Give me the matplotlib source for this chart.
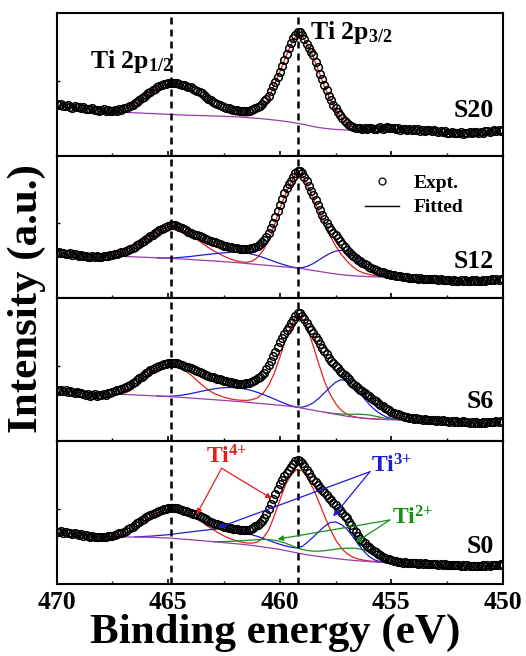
import numpy as np
import matplotlib
matplotlib.use("Agg")
import matplotlib.pyplot as plt
from matplotlib.lines import Line2D
from matplotlib.ticker import MultipleLocator

plt.rcParams["font.family"] = "Liberation Serif"
plt.rcParams["font.weight"] = "bold"
plt.rcParams["mathtext.fontset"] = "custom"
plt.rcParams["mathtext.rm"] = "Liberation Serif:bold"
plt.rcParams["mathtext.bf"] = "Liberation Serif:bold"
plt.rcParams["mathtext.it"] = "Liberation Serif:bold"
plt.rcParams["mathtext.default"] = "bf"

nan = np.nan

# binding energy axes (eV): measured points every 0.1 eV, fit curves every 0.25 eV
energy = np.linspace(470, 450, 201)
energy_fit = np.linspace(468, 454.5, 55)

samples = ["S20", "S12", "S6", "S0"]
peak_lines = [464.9, 459.2]
xticks = [470, 465, 460, 455, 450]

# ---- S20 ----
expt_s20 = [
    51.5, 50.5, 51.8, 50.2, 49.6, 50.4, 49.0, 48.2, 49.5, 48.6,
    48.4, 47.5, 48.8, 47.0, 46.8, 46.4, 47.6, 45.9, 46.2, 45.1,
    45.8, 46.6, 44.8, 45.5, 44.6, 45.0, 45.8, 44.9, 46.3, 46.0,
    47.4, 48.0, 48.9, 50.1, 51.2, 52.4, 54.0, 55.6, 57.4, 59.0,
    60.8, 62.6, 64.2, 65.7, 67.2, 68.4, 69.6, 70.5, 71.3, 71.9,
    72.4, 72.8, 73.1, 73.0, 72.6, 71.7, 71.1, 70.4, 69.6, 68.9,
    68.4, 67.2, 66.0, 64.8, 63.6, 62.4, 60.8, 59.0, 57.2, 55.6,
    54.0, 52.8, 51.6, 50.6, 49.8, 49.0, 48.2, 47.4, 46.8, 46.2,
    45.8, 45.3, 45.0, 44.6, 44.9, 44.8, 45.2, 45.8, 46.5, 47.3,
    48.4, 50.0, 52.0, 54.5, 57.0, 60.0, 65.0, 69.5, 74.0, 79.0,
    84.0, 90.0, 96.0, 102.0, 108.0, 112.4, 118.0, 121.0, 124.0, 123.5,
    120.7, 116.5, 112.0, 108.0, 104.0, 100.7, 94.0, 88.5, 82.0, 76.5,
    70.7, 65.5, 60.0, 55.5, 51.0, 47.5, 44.0, 40.5, 37.5, 35.0,
    32.8, 31.0, 30.0, 28.8, 28.2, 27.6, 27.8, 26.9, 27.4, 27.0,
    27.4, 28.1, 27.2, 26.6, 27.9, 28.4, 27.1, 27.8, 28.6, 27.5,
    28.0, 27.3, 26.8, 27.6, 26.2, 27.0, 26.5, 25.8, 26.9, 26.1,
    26.4, 25.5, 26.8, 25.2, 26.0, 24.8, 25.9, 25.3, 24.6, 25.6,
    25.0, 24.2, 24.9, 23.6, 24.5, 23.2, 22.8, 23.7, 22.5, 23.0,
    22.4, 23.3, 22.1, 23.0, 22.6, 23.8, 22.9, 24.1, 23.5, 23.2,
    24.0, 23.1, 24.4, 25.0, 23.8, 24.7, 25.5, 24.6, 25.9, 25.1,
    25.7,
]
bg_s20 = [
    44.0, 43.9, 43.7, 43.6, 43.4,
    43.2, 42.9, 42.7, 42.4, 42.2,
    41.9, 41.7, 41.4, 41.2, 40.9,
    40.7, 40.4, 40.3, 40.1, 40.0,
    39.8, 39.6, 39.4, 39.2, 39.0,
    38.6, 38.2, 37.8, 37.4, 36.9,
    36.3, 35.7, 35.1, 34.3, 33.5,
    32.6, 31.6, 30.4, 29.2, 28.2,
    27.4, 26.8, 26.3, 26.0, 25.7,
    25.4, 25.2, 25.0, 24.9, nan,
    nan, nan, nan, nan, nan,
]
ti4_s20 = [
    nan, nan, 43.7, 44.5, 46.0,
    48.3, 51.5, 55.5, 59.8, 64.0,
    67.5, 70.0, 71.5, 72.0, 71.2,
    69.3, 66.5, 62.8, 58.8, 54.6,
    50.6, 47.2, 44.5, 42.4, 41.0,
    40.1, 39.8, 40.6, 43.5, 48.5,
    57.0, 70.5, 84.0, 98.0, 111.0,
    121.5, 120.0, 110.0, 99.0, 84.0,
    69.0, 56.5, 46.5, 38.5, 32.5,
    28.5, 26.5, 25.5, 25.0, nan,
    nan, nan, nan, nan, nan,
]

# ---- S12 ----
expt_s12 = [
    45.8, 46.4, 45.2, 45.9, 44.6, 44.5, 45.1, 43.8, 44.2, 43.0,
    42.5, 43.4, 42.2, 42.8, 41.6, 41.8, 42.5, 41.3, 42.0, 41.5,
    41.8, 42.2, 42.6, 42.4, 43.0, 43.5, 44.0, 44.8, 45.3, 46.0,
    46.8, 47.6, 48.5, 49.5, 50.6, 51.8, 53.2, 54.6, 56.0, 57.6,
    59.2, 60.8, 62.4, 63.9, 65.4, 66.8, 68.1, 69.3, 70.5, 71.6,
    72.5, 73.1, 73.5, 73.2, 72.3, 71.2, 70.2, 69.1, 68.0, 66.9,
    65.8, 64.9, 63.9, 63.0, 62.1, 61.2, 60.3, 59.4, 58.5, 57.6,
    56.8, 56.0, 55.2, 54.4, 53.6, 52.8, 52.2, 51.7, 51.2, 50.8,
    50.5, 50.1, 49.9, 49.6, 49.4, 49.5, 49.7, 50.2, 50.9, 51.6,
    52.5, 54.0, 56.0, 58.5, 61.5, 65.2, 70.0, 75.5, 81.0, 87.0,
    93.0, 99.0, 105.0, 110.0, 114.0, 117.5, 121.5, 125.5, 127.8, 127.0,
    125.2, 121.5, 117.0, 112.5, 107.5, 103.0, 98.0, 93.0, 88.0, 83.5,
    79.0, 75.0, 71.5, 68.5, 65.5, 63.0, 60.2, 57.4, 54.5, 51.5,
    48.8, 46.5, 44.3, 42.3, 40.4, 38.6, 37.1, 35.7, 34.3, 33.0,
    31.8, 30.7, 29.7, 28.8, 27.8, 26.9, 26.1, 25.3, 24.6, 24.0,
    23.5, 23.0, 22.6, 22.2, 22.3, 21.8, 21.2, 21.6, 20.8, 20.5,
    20.2, 20.8, 19.9, 20.4, 19.5, 19.9, 19.3, 19.8, 19.0, 19.6,
    19.2, 18.6, 19.3, 18.4, 18.9, 18.1, 18.7, 17.9, 18.5, 17.6,
    17.8, 18.4, 17.5, 18.2, 17.4, 17.9, 18.3, 17.6, 18.1, 17.3,
    17.8, 18.5, 17.9, 18.7, 18.2, 19.0, 18.4, 19.3, 18.8, 19.5,
    19.2,
]
bg_s12 = [
    42.8, 42.6, 42.5, 42.2, 42.0,
    41.8, 41.6, 41.4, 41.2, 40.9,
    40.6, 40.4, 40.2, 39.9, 39.6,
    39.3, 39.0, 38.6, 38.2, 37.9,
    37.6, 37.2, 36.8, 36.4, 36.0,
    35.5, 35.0, 34.5, 34.0, 33.5,
    33.0, 32.5, 32.0, 31.5, 31.0,
    30.4, 29.8, 28.9, 28.0, 27.1,
    26.2, 25.3, 24.5, 23.8, 23.2,
    22.8, 22.4, 22.1, 21.8, 21.6,
    21.5, 21.3, 21.2, nan, nan,
]
ti4_s12 = [
    nan, nan, 42.5, 43.6, 45.2,
    47.5, 50.5, 54.2, 58.2, 62.5,
    66.2, 69.5, 71.7, 72.5, 70.5,
    67.5, 64.0, 59.8, 55.5, 51.6,
    48.2, 45.0, 42.2, 39.8, 37.9,
    36.6, 36.2, 37.2, 41.0, 48.0,
    58.0, 73.0, 90.0, 104.0, 116.0,
    126.5, 124.0, 112.0, 100.0, 87.0,
    74.0, 62.5, 52.5, 44.0, 37.5,
    32.0, 28.0, 25.5, 24.0, 23.0,
    22.2, 21.6, 21.2, nan, nan,
]
ti3_s12 = [
    nan, nan, nan, nan, nan,
    nan, nan, nan, nan, nan,
    40.6, 40.5, 40.5, 40.7, 41.0,
    41.5, 42.0, 42.7, 43.4, 44.0,
    44.6, 45.2, 45.7, 46.2, 46.5,
    46.3, 45.6, 44.4, 42.8, 41.0,
    39.0, 37.0, 35.0, 33.3, 31.8,
    30.8, 30.8, 32.3, 35.0, 38.5,
    42.0, 45.2, 47.4, 48.2, 46.8,
    43.5, 38.8, 34.0, 29.8, 26.5,
    24.2, 22.6, 21.6, 21.2, nan,
]

# ---- S6 ----
expt_s6 = [
    51.2, 50.5, 51.6, 50.2, 50.9, 49.6, 50.3, 49.0, 48.5, 49.2,
    47.9, 48.6, 47.2, 46.5, 47.0, 45.2, 45.9, 46.8, 45.5, 46.4,
    46.2, 47.0, 46.6, 47.8, 48.4, 49.6, 50.0, 50.9, 51.5, 52.2,
    52.9, 53.8, 55.0, 56.4, 58.0, 59.6, 61.3, 63.0, 64.7, 66.3,
    67.9, 69.4, 70.8, 72.2, 73.5, 74.6, 75.6, 76.4, 77.0, 77.5,
    77.9, 78.3, 78.6, 78.4, 77.9, 77.2, 76.4, 75.5, 74.6, 73.8,
    72.9, 71.9, 70.9, 69.9, 68.9, 67.9, 67.1, 66.3, 65.5, 64.7,
    63.9, 63.2, 62.5, 61.8, 61.2, 60.6, 60.0, 59.4, 58.8, 58.3,
    57.9, 57.6, 57.4, 57.3, 57.5, 57.9, 58.4, 59.2, 60.3, 61.5,
    62.9, 64.5, 66.3, 68.5, 71.8, 76.2, 80.5, 85.0, 89.5, 94.0,
    99.0, 103.0, 107.0, 110.8, 114.5, 117.9, 121.5, 125.0, 128.5, 127.8,
    125.2, 121.8, 118.0, 114.5, 111.2, 108.0, 104.5, 100.8, 97.2, 93.6,
    90.0, 86.8, 83.6, 80.6, 77.8, 75.0, 72.8, 70.6, 68.4, 66.2,
    64.0, 61.8, 59.6, 57.4, 55.2, 53.0, 51.4, 49.8, 48.2, 46.6,
    45.0, 43.3, 41.6, 39.9, 38.2, 36.5, 35.1, 33.7, 32.3, 30.9,
    29.5, 28.6, 27.7, 26.8, 25.9, 25.0, 24.5, 24.0, 23.5, 23.0,
    22.5, 22.9, 21.8, 22.3, 21.4, 21.9, 21.0, 21.5, 20.8, 21.2,
    20.6, 21.1, 20.3, 20.8, 19.9, 20.5, 19.7, 20.2, 19.5, 20.0,
    19.6, 19.1, 19.8, 18.9, 19.4, 18.7, 19.2, 18.5, 19.0, 18.4,
    18.6, 19.2, 18.5, 19.3, 18.8, 19.6, 19.0, 19.8, 19.2, 20.0,
    19.6,
]
bg_s6 = [
    47.5, 47.3, 47.2, 47.0, 46.8,
    46.6, 46.3, 46.0, 45.8, 45.5,
    45.2, 44.9, 44.6, 44.3, 44.0,
    43.6, 43.2, 42.8, 42.4, 42.0,
    41.6, 41.2, 40.8, 40.4, 40.0,
    39.5, 39.0, 38.5, 38.0, 37.5,
    37.0, 36.5, 36.0, 35.4, 34.8,
    34.0, 33.0, 32.0, 31.0, 30.0,
    29.0, 28.0, 27.0, 26.0, 25.0,
    24.2, 23.6, 23.0, 22.6, 22.3,
    22.0, 21.7, 21.5, 21.3, 21.2,
]
ti4_s6 = [
    nan, nan, 47.2, 47.5, 48.0,
    50.0, 54.0, 59.5, 65.5, 70.0,
    73.5, 76.0, 77.3, 77.6, 75.2,
    71.0, 66.5, 61.5, 56.5, 52.0,
    48.5, 46.0, 44.0, 42.5, 41.5,
    41.0, 40.8, 41.5, 43.5, 48.0,
    56.0, 68.0, 84.0, 101.0, 115.0,
    127.0, 123.0, 112.0, 95.0, 77.0,
    60.0, 47.0, 37.5, 31.0, 27.0,
    25.0, 23.8, 23.0, 22.6, 22.3,
    22.0, nan, nan, nan, nan,
]
ti3_s6 = [
    nan, nan, nan, nan, nan,
    nan, nan, nan, nan, nan,
    45.2, 45.0, 45.0, 45.2, 45.8,
    46.6, 47.6, 48.8, 50.0, 51.2,
    52.2, 53.0, 53.6, 53.8, 53.6,
    53.0, 52.0, 50.6, 48.8, 46.8,
    44.6, 42.2, 39.8, 37.5, 35.5,
    34.2, 34.0, 35.5, 38.5, 43.0,
    48.5, 54.0, 59.0, 61.5, 60.5,
    56.5, 50.5, 43.5, 37.0, 31.5,
    27.5, 24.5, 22.8, 21.8, 21.3,
]
ti2_s6 = [
    nan, nan, nan, nan, nan,
    nan, nan, nan, nan, nan,
    nan, nan, nan, nan, nan,
    nan, nan, nan, nan, nan,
    nan, nan, nan, nan, nan,
    nan, nan, nan, nan, nan,
    nan, nan, nan, nan, nan,
    nan, nan, nan, nan, nan,
    29.0, 28.2, 27.6, 27.2, 27.0,
    27.0, 27.0, 26.8, 26.2, 25.2,
    24.0, 22.8, 22.0, 21.5, 21.2,
]

# ---- S0 ----
expt_s0 = [
    52.3, 51.5, 52.6, 51.2, 51.8, 50.7, 51.3, 50.1, 50.6, 49.5,
    49.0, 49.7, 48.4, 48.9, 47.6, 47.3, 48.1, 46.8, 47.4, 46.5,
    46.7, 47.3, 46.9, 47.8, 47.5, 48.0, 48.8, 49.6, 50.5, 51.3,
    52.3, 53.4, 54.6, 55.9, 57.4, 59.0, 60.6, 62.2, 63.7, 65.2,
    66.7, 68.0, 69.2, 70.3, 71.4, 72.3, 73.2, 74.0, 74.7, 75.2,
    75.7, 76.1, 76.3, 76.1, 75.5, 74.7, 74.0, 73.3, 72.7, 72.0,
    71.3, 70.4, 69.5, 68.6, 67.7, 66.7, 65.6, 64.5, 63.4, 62.3,
    61.3, 60.4, 59.6, 58.8, 58.0, 57.3, 56.7, 56.2, 55.7, 55.3,
    55.0, 54.7, 54.4, 54.2, 54.0, 54.0, 54.3, 55.0, 56.2, 57.5,
    59.0, 61.0, 63.3, 66.0, 70.0, 75.0, 80.0, 85.0, 90.0, 95.0,
    100.0, 104.0, 107.5, 110.5, 113.8, 117.0, 120.0, 122.5, 124.0, 123.0,
    121.0, 117.5, 114.0, 110.8, 107.3, 104.0, 101.5, 98.8, 96.0, 94.0,
    92.0, 89.0, 86.3, 83.8, 81.3, 79.0, 76.3, 73.5, 70.8, 68.2,
    65.5, 62.2, 58.8, 55.3, 51.5, 48.0, 45.4, 43.0, 40.6, 38.4,
    36.5, 34.8, 33.2, 31.6, 30.0, 28.5, 27.3, 26.2, 25.3, 24.6,
    24.0, 23.4, 22.8, 22.3, 21.9, 21.3, 21.8, 20.9, 21.4, 20.6,
    20.7, 21.2, 20.4, 20.9, 20.1, 20.6, 19.8, 20.3, 19.6, 20.1,
    19.7, 19.2, 19.9, 19.0, 19.5, 18.8, 19.3, 18.6, 19.1, 18.5,
    19.0, 18.4, 18.9, 18.2, 18.7, 17.9, 18.4, 17.7, 18.3, 17.8,
    18.0, 18.6, 18.1, 18.9, 18.4, 19.2, 18.6, 19.4, 18.9, 19.5,
    19.0,
]
bg_s0 = [
    47.0, 47.0, 47.0, 47.0, 47.0,
    47.0, 47.0, 46.9, 46.8, 46.6,
    46.4, 46.2, 46.0, 45.6, 45.1,
    44.7, 44.2, 43.8, 43.3, 42.8,
    42.3, 41.8, 41.3, 40.8, 40.3,
    39.8, 39.2, 38.5, 37.8, 37.0,
    36.2, 35.4, 34.5, 33.4, 32.3,
    31.1, 30.0, 29.1, 28.3, 27.5,
    26.8, 26.1, 25.4, 24.8, 24.2,
    23.7, 23.2, 22.8, 22.4, 22.0,
    21.6, 21.3, 21.0, 20.8, 20.7,
]
ti4_s0 = [
    nan, nan, 47.0, 47.5, 49.0,
    51.5, 55.0, 59.5, 64.0, 68.0,
    71.0, 73.0, 74.0, 74.0, 73.0,
    71.0, 68.5, 65.5, 62.0, 58.0,
    54.5, 51.0, 48.0, 45.5, 43.5,
    42.0, 41.0, 40.8, 42.0, 46.0,
    54.0, 68.0, 84.0, 99.0, 109.0,
    114.5, 113.0, 106.0, 95.0, 82.0,
    68.0, 55.0, 44.0, 36.0, 30.5,
    27.0, 25.0, 23.8, 23.0, 22.5,
    22.0, nan, nan, nan, nan,
]
ti3_s0 = [
    nan, nan, nan, nan, nan,
    nan, 47.0, 47.3, 47.6, 47.9,
    48.3, 48.8, 49.3, 50.0, 50.7,
    51.4, 52.1, 52.8, 53.4, 54.0,
    54.6, 55.0, 54.8, 54.2, 53.4,
    52.2, 50.8, 49.2, 47.5, 45.6,
    43.6, 41.6, 39.7, 38.1, 36.8,
    36.0, 37.5, 42.0, 47.0, 52.5,
    57.5, 61.5, 62.0, 59.5, 55.0,
    48.0, 40.0, 33.0, 27.5, 24.0,
    22.3, 21.3, 20.8, nan, nan,
]
ti2_s0 = [
    nan, nan, nan, nan, nan,
    nan, nan, nan, nan, nan,
    nan, nan, nan, nan, nan,
    nan, nan, nan, nan, nan,
    42.3, 42.3, 42.4, 42.6, 42.9,
    43.2, 43.5, 43.9, 44.3, 44.5,
    44.4, 43.8, 42.6, 40.8, 38.6,
    36.4, 34.6, 33.4, 32.8, 32.8,
    33.2, 34.0, 34.8, 35.4, 35.8,
    35.9, 35.4, 34.0, 31.8, 28.8,
    25.8, 23.3, 21.5, 20.9, nan,
]

RED = "#e3201b"
BLUE = "#1c1cd8"
GREEN = "#17901a"
PURPLE = "#9a3cae"

panels = [
    (expt_s20, bg_s20, ti4_s20, None, None),
    (expt_s12, bg_s12, ti4_s12, ti3_s12, None),
    (expt_s6, bg_s6, ti4_s6, ti3_s6, ti2_s6),
    (expt_s0, bg_s0, ti4_s0, ti3_s0, ti2_s0),
]
label_y = [0.32, 0.258, 0.277, 0.261]

fig = plt.figure(figsize=(5.26, 6.56), dpi=100)

left, width = 0.1078, 0.8485
height = 0.2176
bottoms = [0.7626, 0.5450, 0.3274, 0.1098]

axes = []
for i, (expt, bg, ti4, ti3, ti2) in enumerate(panels):
    ax = fig.add_axes([left, bottoms[i], width, height])
    axes.append(ax)

    for comp, col in [(ti4, RED), (ti3, BLUE), (ti2, GREEN)]:
        if comp is not None:
            ax.plot(energy_fit, comp, color=col, lw=0.9, zorder=2)
    ax.plot(energy_fit, bg, color=PURPLE, lw=0.9, zorder=2)

    ax.plot(energy, expt, ls="none", marker="o", ms=5.5, mfc="none",
            mec="black", mew=1.1, zorder=3)

    for e in peak_lines:
        ax.axvline(e, color="black", lw=1.8, ls=(0, (2.8, 2.0)), zorder=4)

    ax.set_xlim(470, 450)
    ax.set_ylim(0, 142.75)
    ax.set_xticks(xticks)
    ax.xaxis.set_minor_locator(MultipleLocator(2.5))
    ax.set_yticks([75])
    ax.set_yticklabels([])
    ax.tick_params(axis="both", which="major", direction="in", length=3.5,
                   width=1.2, labelsize=18.5, pad=5)
    ax.tick_params(axis="y", which="major", length=2.5, width=1.0)
    ax.tick_params(axis="x", which="minor", direction="in", length=2.5,
                   width=1.0)
    for sp in ax.spines.values():
        sp.set_linewidth(1.5)
    if i < 3:
        ax.tick_params(axis="x", labelbottom=False)

    ax.text(0.98, label_y[i], samples[i], transform=ax.transAxes,
            ha="right", va="center", fontsize=18.5)

# peak labels in the top panel
ax = axes[0]
ax.text(468.5, 87.5, r"Ti 2p$_{1/2}$", ha="left", va="baseline", fontsize=18.5)
ax.text(458.65, 116.5, r"Ti 2p$_{3/2}$", ha="left", va="baseline", fontsize=18.5)

# legend in the S12 panel
ax = axes[1]
h_expt = Line2D([], [], ls="none", marker="o", ms=5, mfc="none", mec="black", mew=0.9)
h_fit = Line2D([], [], color="black", lw=1.0)
ax.legend([h_expt, h_fit], ["Expt.", "Fitted"], loc="upper left",
          bbox_to_anchor=(0.69, 0.87), frameon=False, fontsize=14,
          handlelength=1.75, handletextpad=0.75, labelspacing=0.35,
          borderpad=0, borderaxespad=0)

# oxidation-state labels with arrows in the S0 panel
ax = axes[3]
states = [
    (r"Ti$^{4{+}}$", RED, (462.37, 127), (462.61, 115.7), [(463.73, 69.5), (460.37, 85.5)]),
    (r"Ti$^{3{+}}$", BLUE, (454.98, 118), (455.96, 112.3), [(462.76, 56.3), (457.61, 67.5)]),
    (r"Ti$^{2{+}}$", GREEN, (454.04, 66), (455.07, 64.0), [(460.1, 44.8), (456.61, 41.5)]),
]
for txt, col, pos, start, tips in states:
    ax.text(pos[0], pos[1], txt, color=col, ha="center", va="center", fontsize=17)
    for tip in tips:
        ax.annotate("", xy=tip, xytext=start,
                    arrowprops=dict(arrowstyle="-|>", color=col, lw=0.9,
                                    mutation_scale=8, shrinkA=0, shrinkB=0),
                    zorder=5)

fig.text(0.523, 0.02, "Binding energy (eV)", ha="center", va="baseline", fontsize=31)
fig.text(0.051, 0.545, "Intensity (a.u.)", rotation=90, ha="center", va="center", fontsize=31)

fig.savefig("out.png", dpi=100)
